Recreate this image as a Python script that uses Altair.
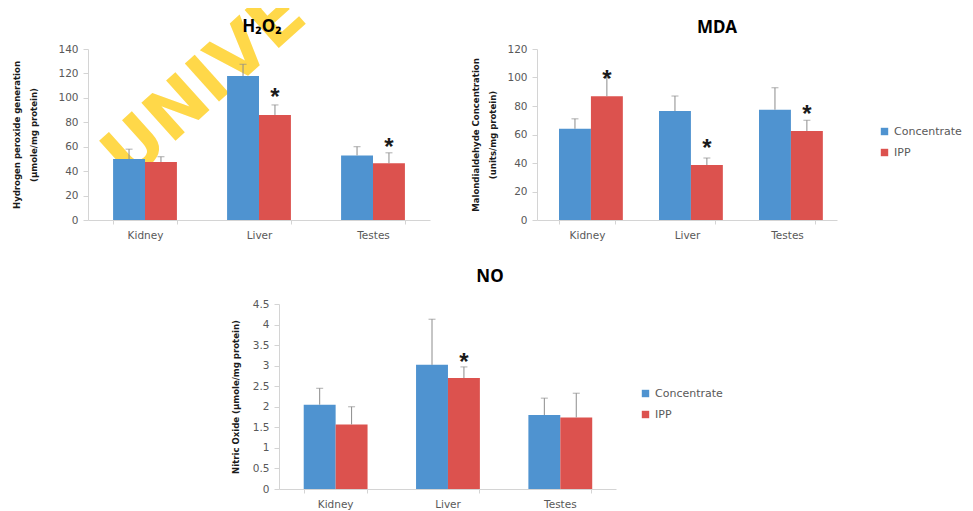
import altair as alt
import pandas as pd

organs = ["Kidney", "Liver", "Testes"]
groups = ["Concentrate", "IPP"]

# H2O2 (µmole/mg protein)
h2o2_conc = [49.9, 117.9, 52.9]
h2o2_conc_err = [8.1, 9.6, 7.1]
h2o2_ipp = [47.5, 86.0, 46.4]
h2o2_ipp_err = [4.3, 8.2, 8.6]
h2o2_star_organs = ["Liver", "Testes"]
h2o2_star_y = [104.5, 63.9]

# MDA (units/mg protein)
mda_conc = [64.0, 76.5, 77.4]
mda_conc_err = [7.0, 10.5, 15.4]
mda_ipp = [86.8, 38.6, 62.5]
mda_ipp_err = [13.2, 4.9, 7.5]
mda_star_organs = ["Kidney", "Liver", "Testes"]
mda_star_y = [102.5, 54.0, 77.9]

# NO (µmole/mg protein)
no_conc = [2.05, 3.02, 1.80]
no_conc_err = [0.40, 1.11, 0.41]
no_ipp = [1.57, 2.70, 1.74]
no_ipp_err = [0.43, 0.27, 0.59]
no_star_organs = ["Liver"]
no_star_y = [3.22]

BLUE = "#4f93d0"
RED = "#dc524e"
GRAY = "#595959"
LINE = "#d4d4d4"
YFONT = '"DejaVu Sans Condensed", "Liberation Sans Narrow", sans-serif'
LFONT = "DejaVu Sans"


def panel(title, title_xy, conc, conc_err, ipp, ipp_err, star_org, star_y,
          ymax, ystep, ytitle, w, h, fmt, extent, tpad, legend_xy=None,
          watermark=False):
    vals = conc + ipp
    errs = conc_err + ipp_err
    df = pd.DataFrame({
        "organ": organs * 2,
        "group": [groups[0]] * 3 + [groups[1]] * 3,
        "value": vals,
        "upper": [v + e for v, e in zip(vals, errs)],
    })
    sdf = pd.DataFrame({"organ": star_org, "group": [groups[1]] * len(star_org),
                        "value": star_y})
    n = int(round(ymax / ystep))
    ticks = [round(i * ystep, 4) for i in range(n + 1)]

    xenc = alt.X("organ:N", sort=organs, title=None,
                 scale=alt.Scale(paddingInner=0.44, paddingOuter=0.22),
                 axis=alt.Axis(labelAngle=0, tickBand="extent", domainColor=LINE,
                               tickColor=LINE, tickSize=4, labelPadding=6,
                               labelColor=GRAY, labelFont=LFONT,
                               labelFontSize=10.5))
    xoff = alt.XOffset("group:N", sort=groups,
                       scale=alt.Scale(paddingInner=0, paddingOuter=0))
    yaxis = alt.Axis(values=ticks, format=fmt, grid=False, title=ytitle,
                     domainColor=LINE, tickColor=LINE, tickSize=5, labelPadding=5,
                     labelColor=GRAY, labelFont=LFONT, labelFontSize=10.5,
                     minExtent=extent, maxExtent=extent,
                     titleFont=YFONT, titleFontSize=9.5, titleFontWeight="bold",
                     titleColor="#1a1a1a", titlePadding=tpad, titleLineHeight=17)
    yscale = alt.Scale(domain=[0, ymax], nice=False)

    def Y(field):
        return alt.Y(field, scale=yscale, axis=yaxis)

    if legend_xy is None:
        leg = None
    else:
        leg = alt.Legend(title=None, orient="none", legendX=legend_xy[0],
                         legendY=legend_xy[1], symbolType="square",
                         symbolSize=55, symbolStrokeWidth=0, labelColor=GRAY,
                         labelFont=LFONT, labelFontSize=11,
                         rowPadding=9, labelOffset=4)
    color = alt.Color("group:N", sort=groups,
                      scale=alt.Scale(domain=groups, range=[BLUE, RED]),
                      legend=leg)

    bars = alt.Chart(df).mark_bar().encode(x=xenc, xOffset=xoff,
                                           y=Y("value:Q"), color=color)
    rule = alt.Chart(df).mark_rule(color="#8c8c8c", strokeWidth=1).encode(
        x=xenc, xOffset=xoff, y=Y("value:Q"), y2="upper:Q")
    cap = alt.Chart(df).mark_tick(color="#8c8c8c", thickness=1, size=7).encode(
        x=xenc, xOffset=xoff, y=Y("upper:Q"))
    star = alt.Chart(sdf).mark_text(text="*", fontSize=24, fontWeight="bold",
                                    font="Liberation Sans", color="#1a1a1a",
                                    baseline="middle", dy=6).encode(
        x=xenc, xOffset=xoff, y=Y("value:Q"))
    ttl = alt.Chart(pd.DataFrame({"t": [title]})).mark_text(
        font="Noto Sans", fontSize=17, fontWeight="bold", color="black",
        align="center", baseline="middle").encode(
        text="t:N", x=alt.value(title_xy[0]), y=alt.value(title_xy[1]))
    layers = [bars, rule, cap, star, ttl]
    if watermark:
        wm = alt.Chart(pd.DataFrame({"t": ["UNIVE"]})).mark_text(
            fontSize=70, fontWeight="bold", font="DejaVu Sans",
            color="#ffd640", opacity=0.95, angle=318, align="center",
            baseline="middle").encode(text="t:N", x=alt.value(117),
                                      y=alt.value(37))
        layers = [wm] + layers
    return alt.layer(*layers).properties(width=w, height=h)


h2o2 = panel("H₂O₂", (174, -22), h2o2_conc, h2o2_conc_err, h2o2_ipp,
             h2o2_ipp_err, h2o2_star_organs, h2o2_star_y, 140, 20,
             ["Hydrogen peroxide generation", "(µmole/mg protein)"],
             342, 171, "d", 38, 12, None, watermark=True)
mda = panel("MDA", (180, -21), mda_conc, mda_conc_err, mda_ipp, mda_ipp_err,
            mda_star_organs, mda_star_y, 120, 20,
            ["Malondialdehyde Concentration", "(units/mg protein)"],
            300, 171, "d", 31, 9, (342, 77))
no = panel("NO", (211, -27), no_conc, no_conc_err, no_ipp, no_ipp_err,
           no_star_organs, no_star_y, 4.5, 0.5,
           "Nitric Oxide (µmole/mg protein)", 337, 185, "~g", 31, 8, (361, 84))

spacer = alt.Chart(pd.DataFrame({"a": [0]})).mark_point(opacity=0).encode(
    x=alt.X("a:Q", axis=None), y=alt.Y("a:Q", axis=None)).properties(
    width=142, height=10)

top = alt.hconcat(h2o2, mda, spacing=40).resolve_scale(
    color="independent").resolve_legend(color="independent")
bottom = alt.hconcat(spacer, no, spacing=0).resolve_scale(
    color="independent").resolve_legend(color="independent")

chart = alt.vconcat(top, bottom, spacing=27).resolve_scale(
    color="independent").resolve_legend(color="independent").properties(
    padding={"left": 3, "top": -30, "right": 0, "bottom": 0},
    background="white").configure_view(stroke=None)

chart.save("out.html", embed_options={"renderer": "svg", "actions": False})
